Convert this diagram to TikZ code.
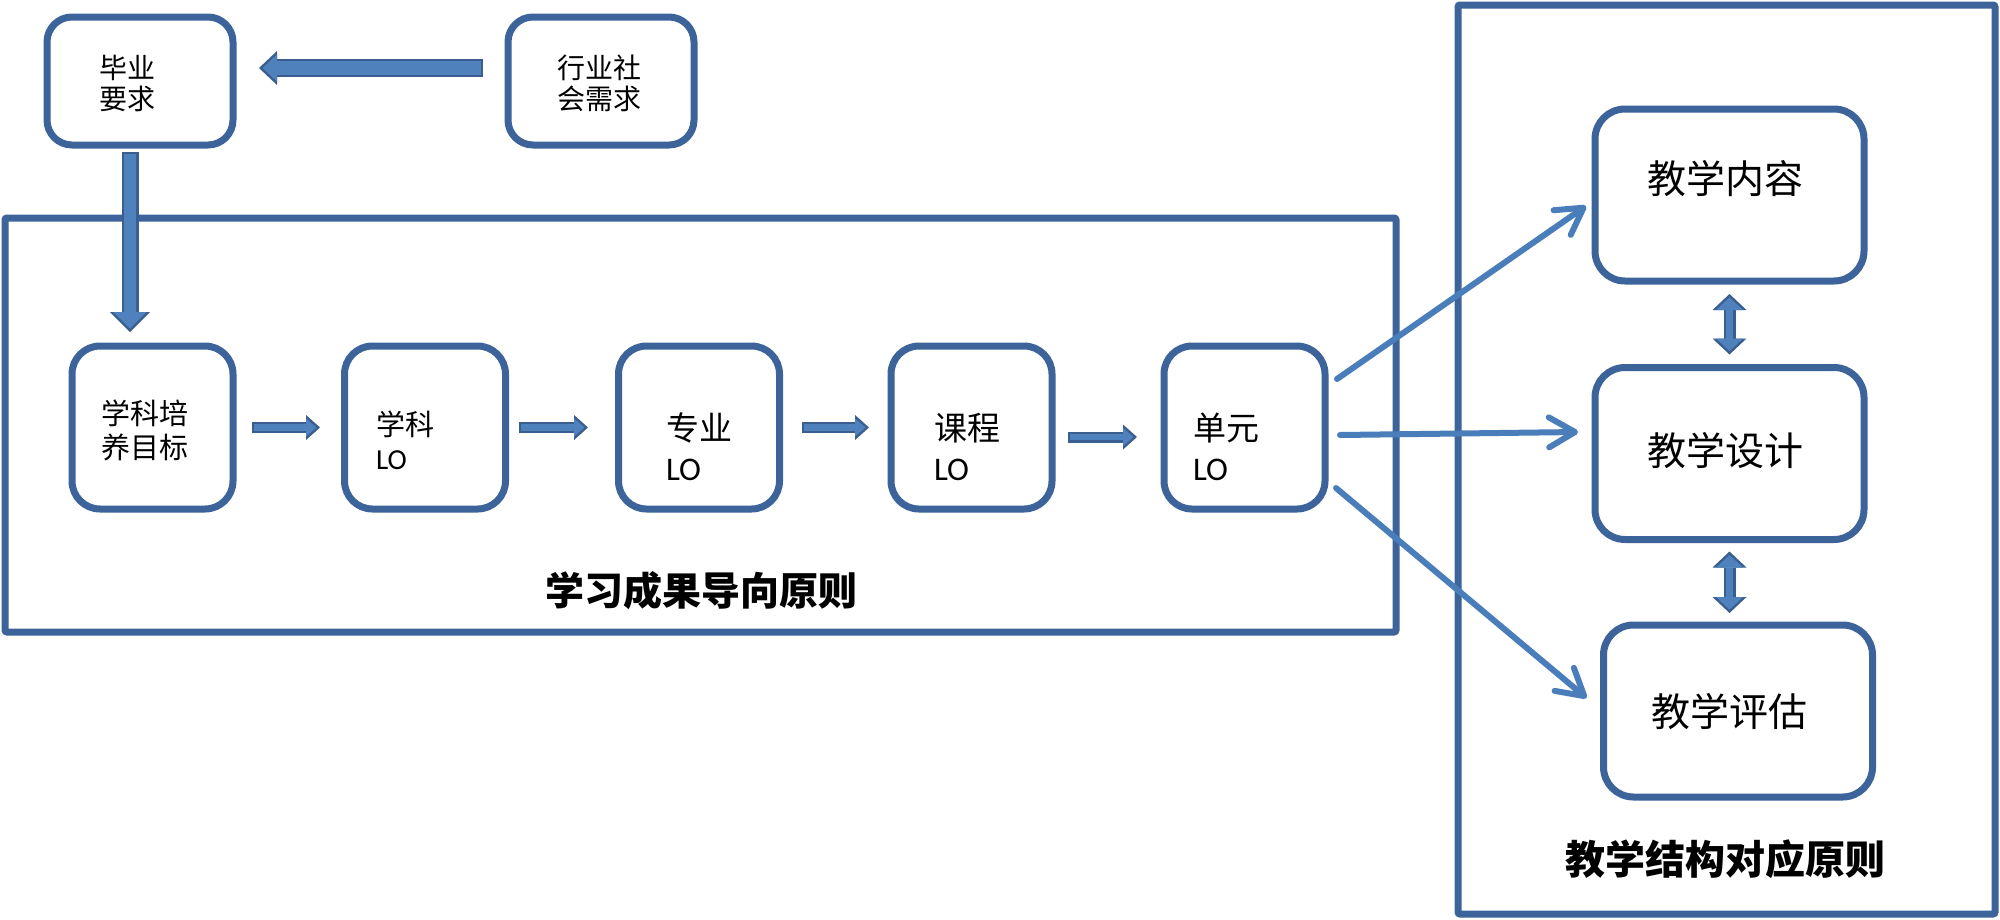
\documentclass[tikz,border=0pt]{standalone}
\usepackage{fontspec}
\setmainfont{Noto Sans CJK SC}
\newfontfamily\lofont{Carlito}
\usetikzlibrary{arrows.meta,calc}
\definecolor{boxblue}{HTML}{3C649B}
\definecolor{thinblue}{HTML}{4A7EBB}
\definecolor{fillblue}{HTML}{4F81BD}
\definecolor{edgeblue}{HTML}{3A5F8F}
% block arrow: #1 start, #2 end, #3 shorten<, #4 shorten>, #5 body, #6 head width, #7 head length
\newcommand\blockarr[7]{%
  \draw[edgeblue, line width=#5pt, shorten <=#3pt, shorten >=#4pt,
        -{Triangle[width=#6pt,length=#7pt,line width=0pt]}] #1 -- #2;
  \pgfmathsetmacro\bia{#3+2}\pgfmathsetmacro\bib{#4+3.5}\pgfmathsetmacro\bic{#5-4.5}%
  \pgfmathsetmacro\bid{#6-7}\pgfmathsetmacro\bie{#7-3.5}%
  \draw[fillblue, line width=\bic pt, shorten <=\bia pt, shorten >=\bib pt,
        -{Triangle[width=\bid pt,length=\bie pt,line width=0pt]}] #1 -- #2;
}
% double block arrow: #1 start, #2 end, #3 shorten, #4 body, #5 head width, #6 head length
\newcommand\dblockarr[6]{%
  \draw[edgeblue, line width=#4pt, shorten <=#3pt, shorten >=#3pt,
        {Triangle[width=#5pt,length=#6pt,line width=0pt]}-{Triangle[width=#5pt,length=#6pt,line width=0pt]}] #1 -- #2;
  \pgfmathsetmacro\bib{#3+3.5}\pgfmathsetmacro\bic{#4-4.5}%
  \pgfmathsetmacro\bid{#5-7}\pgfmathsetmacro\bie{#6-3.5}%
  \draw[fillblue, line width=\bic pt, shorten <=\bib pt, shorten >=\bib pt,
        {Triangle[width=\bid pt,length=\bie pt,line width=0pt]}-{Triangle[width=\bid pt,length=\bie pt,line width=0pt]}] #1 -- #2;
}
\begin{document}
\begin{tikzpicture}[x=1pt,y=-1pt,
  box/.style={draw=boxblue, line width=7pt, fill=white, inner sep=0pt, outer sep=0pt},
  topbox/.style={box, minimum width=186pt, minimum height=128pt, rounded corners=25pt},
  rowbox/.style={box, minimum width=161pt, minimum height=163pt, rounded corners=28pt},
  rbox/.style={box, minimum width=269pt, minimum height=172pt, rounded corners=30pt},
  frame/.style={draw=boxblue, line width=7pt, inner sep=0pt, outer sep=0pt, rounded corners=2pt},
  txt/.style={inner sep=0pt, outer sep=0pt, align=center},
  ltxt/.style={inner sep=0pt, outer sep=0pt, align=left, anchor=west},
  thinarrow/.style={draw=thinblue, line width=6pt, line cap=round,
        -{Straight Barb[length=26pt,width=30pt,round]}}
]
\useasboundingbox (0,0) rectangle (2000,919);
\fill[white] (0,0) rectangle (2000,919);

% frames
\node[frame, minimum width=1391pt, minimum height=414pt] (lframe) at (700.5,425) {};
\node[frame, minimum width=537pt, minimum height=909pt] (rframe) at (1726.5,459.5) {};

% top boxes
\node[topbox] (grad) at (140,81) {};
\node[txt, font=\fontsize{28pt}{31pt}\selectfont] (gradt) at ([shift={(-13,2)}]grad.center) {毕业\\要求};
\node[topbox] (ind) at (601,81) {};
\node[txt, font=\fontsize{28pt}{31pt}\selectfont] (indt) at ([shift={(-2,2)}]ind.center) {行业社\\会需求};

% row boxes
\node[rowbox] (b1) at (152.5,427.5) {};
\node[txt, font=\fontsize{29pt}{34pt}\selectfont] (b1t) at ([shift={(-8,3)}]b1.center) {学科培\\养目标};
\node[rowbox] (b2) at (425,427.5) {};
\node[ltxt, font=\fontsize{29pt}{34pt}\selectfont] (b2t) at ([shift={(31.5,12.5)}]b2.west) {学科\\{\lofont LO}};
\node[rowbox] (b3) at (699,427.5) {};
\node[ltxt, font=\fontsize{33pt}{40pt}\selectfont] (b3t) at ([shift={(47.5,19.5)}]b3.west) {专业\\{\lofont LO}};
\node[rowbox] (b4) at (971.5,427.5) {};
\node[ltxt, font=\fontsize{33pt}{40pt}\selectfont] (b4t) at ([shift={(43,19.5)}]b4.west) {课程\\{\lofont LO}};
\node[rowbox] (b5) at (1244.5,427.5) {};
\node[ltxt, font=\fontsize{33pt}{40pt}\selectfont] (b5t) at ([shift={(29,19.5)}]b5.west) {单元\\{\lofont LO}};

% right boxes
\node[rbox] (r1) at (1729.5,195) {};
\node[txt, font=\fontsize{39pt}{39pt}\selectfont] (r1t) at ([shift={(-4.5,-16)}]r1.center) {教学内容};
\node[rbox] (r2) at (1729.5,453.5) {};
\node[txt, font=\fontsize{39pt}{39pt}\selectfont] (r2t) at ([shift={(-4.5,-2.5)}]r2.center) {教学设计};
\node[rbox] (r3) at (1738,711) {};
\node[txt, font=\fontsize{39pt}{39pt}\selectfont] (r3t) at ([shift={(-9,1)}]r3.center) {教学评估};

% frame labels
\node[txt, font=\bfseries\fontsize{39pt}{39pt}\selectfont] (lblL) at (701,591) {学习成果导向原则};
\node[txt, font=\bfseries\fontsize{40pt}{40pt}\selectfont] (lblR) at (1725,859) {教学结构对应原则};

% block arrows
\blockarr{([shift={(0,-13)}]ind.west)}{([shift={(0,-13)}]grad.east)}{25}{26}{18}{34}{18}
\blockarr{([shift={(-10,0)}]grad.south)}{([shift={(-22.5,0)}]b1.north)}{7}{14}{17}{40}{20}
\blockarr{(b1.east)}{(b2.west)}{19}{24.5}{11}{25}{14}
\blockarr{(b2.east)}{(b3.west)}{13.5}{30.5}{11}{25}{14}
\blockarr{(b3.east)}{(b4.west)}{22.5}{22}{11}{25}{14}
\blockarr{([shift={(0,9.5)}]b4.east)}{([shift={(0,9.5)}]b5.west)}{16}{27}{11}{25}{14}

% double arrows
\dblockarr{(r1.south)}{(r2.north)}{13}{12}{34}{16}
\dblockarr{(r2.south)}{(r2.south |- r3.north)}{12}{12}{34}{16}

% thin arrows
\draw[thinarrow] ([shift={(12,-48.5)}]b5.east) -- ([shift={(-9,11)}]r1.west);
\draw[thinarrow] ([shift={(15,7.5)}]b5.east) -- ([shift={(-17,-21.5)}]r2.west);
\draw[thinarrow] ([shift={(11,60.5)}]b5.east) -- ([shift={(-17,-13)}]r3.west);
\end{tikzpicture}
\end{document}
